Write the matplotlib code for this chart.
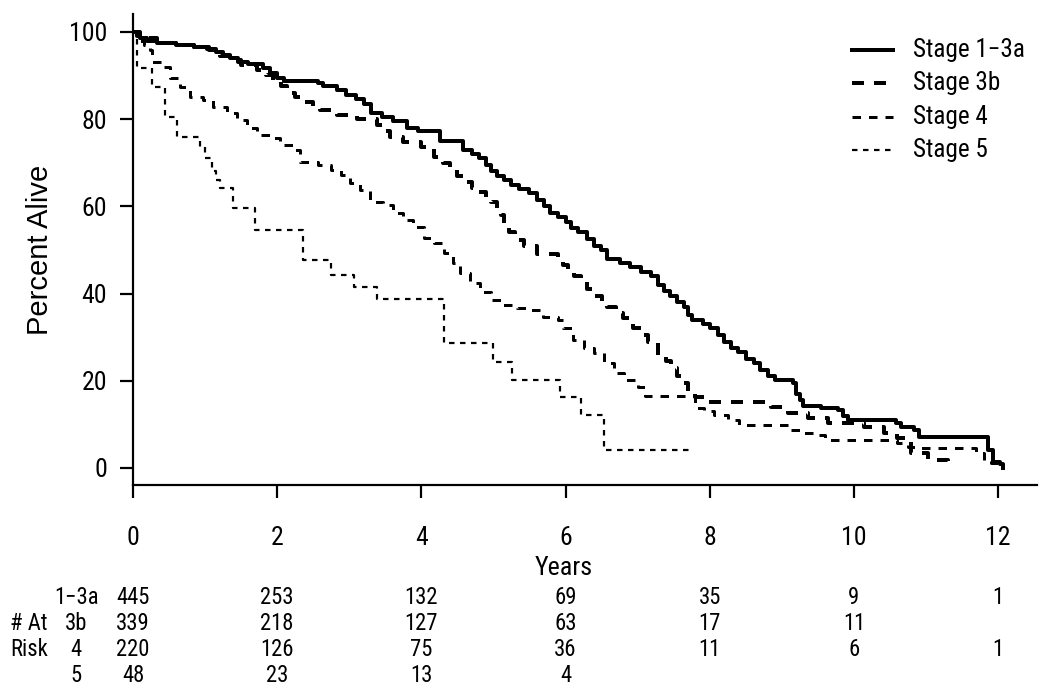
import matplotlib
matplotlib.use("Agg")
import matplotlib.pyplot as plt
from matplotlib import font_manager
from matplotlib.font_manager import FontProperties
from matplotlib.lines import Line2D
from matplotlib.transforms import blended_transform_factory

# ---------------- data ----------------
labels = ["Stage 1\u22123a", "Stage 3b", "Stage 4", "Stage 5"]

t_13a = [0, 0.05, 0.1, 0.2, 0.33, 0.6, 0.85, 1.03, 1.15, 1.25, 1.35, 1.45, 1.6, 1.8, 1.9,
         2.0, 2.1, 2.56, 2.63, 2.83, 2.95, 3.1, 3.2, 3.3, 3.45, 3.6, 3.8, 3.95, 4.26, 4.58,
         4.7, 4.8, 4.9, 4.96, 5.05, 5.15, 5.25, 5.35, 5.5, 5.6, 5.7, 5.78, 5.9, 6.0, 6.08,
         6.17, 6.3, 6.4, 6.49, 6.58, 6.75, 6.9, 7.05, 7.18, 7.28, 7.36, 7.45, 7.55, 7.64,
         7.7, 7.76, 7.9, 8.01, 8.11, 8.2, 8.3, 8.39, 8.5, 8.61, 8.7, 8.81, 8.9, 9.15, 9.2,
         9.25, 9.3, 9.55, 9.78, 9.85, 9.92, 10.58, 10.65, 10.83, 10.9, 11.86, 11.93, 12.02,
         12.07]
s_13a = [100, 99, 98.6, 98, 97.5, 97, 96.5, 96, 95.3, 94.7, 94, 93.2, 92.7, 91.7, 90.5,
         89.5, 88.7, 88.3, 87.5, 86.7, 85.5, 84.5, 83.5, 81.5, 80.5, 79.5, 78, 77.3, 75, 73,
         72, 71, 69.5, 68, 67, 66, 65, 64, 63, 61.5, 60, 58.5, 57.5, 56.5, 55,
         54, 52.5, 51, 50, 48, 47, 46, 45, 44, 42, 40.5, 39.5, 38, 37,
         35, 34, 33, 32, 30.5, 29, 27.5, 26.5, 25, 24, 22.5, 21, 20.2, 19.5, 17,
         15.5, 14.3, 13.8, 13.2, 12, 11, 10.3, 9.4, 8.7, 7.1, 4.1, 1.4, 1.0,
         0]

t_3b = [0, 0.1, 0.33, 0.6, 0.85, 1.05, 1.2, 1.35, 1.5, 1.72, 1.85, 1.94, 2.05, 2.14, 2.25,
        2.36, 2.5, 2.6, 2.83, 3.11, 3.39, 3.5, 3.57, 3.75, 3.99, 4.17, 4.3, 4.4, 4.5, 4.58,
        4.7, 4.78, 4.9, 4.96, 5.05, 5.1, 5.15, 5.21, 5.3, 5.42, 5.61, 5.9, 5.97, 6.03, 6.12,
        6.21, 6.3, 6.39, 6.5, 6.58, 6.7, 6.8, 6.94, 7.05, 7.14, 7.28, 7.4, 7.46, 7.55, 7.6,
        7.7, 7.8, 7.97, 8.85, 9.08, 9.36, 9.64, 10.14, 10.42, 10.6, 10.79, 11.03, 11.3, 11.36]
s_3b = [100, 98.6, 97.5, 97, 96.5, 95.8, 94.5, 93.5, 92.5, 91.3, 90, 89, 87.5, 86, 85,
        84, 83, 82, 81, 80, 78.7, 77.2, 76, 74.8, 73.6, 71.3, 70, 68.8, 67, 65.6,
        64.3, 63.2, 62, 61, 59.5, 58, 56, 54, 52.3, 50.8, 49, 48.3, 46.5, 45.4, 44,
        42.6, 41, 39.5, 38, 37, 35.5, 34.5, 32, 30.5, 28.8, 26, 24.5, 23, 21, 19.5,
        17.5, 16.3, 15.2, 14, 12.6, 11.5, 10.4, 9.4, 8, 6.8, 3.4, 1.8, 1.1, 1.1]

t_4 = [0, 0.05, 0.15, 0.24, 0.26, 0.42, 0.51, 0.65, 0.79, 0.97, 1.11, 1.31, 1.44, 1.58,
       1.72, 1.9, 2.04, 2.22, 2.32, 2.56, 2.74, 2.88, 3.01, 3.15, 3.29, 3.47, 3.61, 3.75,
       3.89, 4.03, 4.17, 4.31, 4.44, 4.54, 4.68, 4.82, 4.96, 5.1, 5.33, 5.51, 5.69, 5.89,
       5.97, 6.11, 6.25, 6.39, 6.53, 6.67, 6.81, 7.0, 7.1, 7.8, 7.92, 8.06, 8.25, 8.4,
       9.08, 9.26, 9.44, 9.6, 10.6, 10.75, 10.85, 11.7, 11.8, 11.9, 12.0]
s_4 = [100, 98, 97, 95.9, 93, 92, 89.4, 87.4, 85.1, 84.4, 82.8, 81.4, 79.8, 78,
       76.4, 75.7, 74.1, 72.9, 70.2, 69.5, 68.3, 67.2, 65.4, 63.8, 61, 60.3, 58.5, 56.9,
       55.3, 52.8, 51.6, 49.3, 47, 44.7, 42.4, 40.4, 38.5, 37.4, 36.7, 36.2, 34.6, 33.9,
       32.1, 29.4, 27.5, 26.4, 24.1, 21.8, 20.2, 18.6, 16.6, 13.8, 13.0, 12.2, 11.0, 9.9,
       8.7, 8.0, 7.5, 6.5, 5.7, 4.9, 4.5, 3.4, 1.8, 1.1, 1.1]

t_5 = [0, 0.05, 0.26, 0.44, 0.61, 0.93, 1.0, 1.1, 1.15, 1.21, 1.39, 1.69, 2.36, 2.74,
       3.06, 3.39, 4.31, 5.0, 5.26, 5.93, 6.21, 6.53, 7.78]
s_5 = [100, 91.7, 87.4, 80.5, 76, 73.6, 71, 68, 66, 64.2, 59.6, 54.6, 47.7, 44.3,
       41.5, 38.7, 28.7, 24.3, 20.2, 16.3, 12.2, 4.1, 4.1]

risk_times = [0, 2, 4, 6, 8, 10, 12]
risk_groups = ["1\u22123a", "3b", "4", "5"]
risk_13a = [445, 253, 132, 69, 35, 9, 1]
risk_3b = [339, 218, 127, 63, 17, 11, None]
risk_4 = [220, 126, 75, 36, 11, 6, 1]
risk_5 = [48, 23, 13, 4, None, None, None]

x_ticks = [0, 2, 4, 6, 8, 10, 12]
y_ticks = [0, 20, 40, 60, 80, 100]

# ---------------- fonts: prefer a narrow sans (reference text is condensed) ----------------
def find_narrow():
    prefs = ["Liberation Sans Narrow", "Arial Narrow", "Roboto Condensed",
             "Open Sans Condensed", "Noto Sans Condensed", "DejaVu Sans Condensed"]
    found = {}
    for f in font_manager.fontManager.ttflist:
        if f.style != "normal":
            continue
        if f.weight not in (400, "normal", "regular", "book"):
            continue
        n = f.name
        st = f.stretch
        cond = ("Narrow" in n or "Condensed" in n or
                (isinstance(st, str) and "condensed" in st) or
                (isinstance(st, (int, float)) and st < 500))
        if cond:
            found.setdefault(n, f.fname)
    for p in prefs:
        if p in found:
            return FontProperties(fname=found[p])
    return None

fp_narrow = find_narrow()
fp_base = fp_narrow if fp_narrow is not None else FontProperties(family="Liberation Sans")
fp_regular = FontProperties(family="Liberation Sans")

W, H = 1050, 696
fig = plt.figure(figsize=(W / 100, H / 100), dpi=100)
renderer = fig.canvas.get_renderer()


def fitted_size(text, target_w_px, height_size):
    t = fig.text(0, 0, text, fontproperties=fp_base, fontsize=height_size)
    w = t.get_window_extent(renderer).width
    t.remove()
    wsize = height_size * target_w_px / w
    if fp_narrow is not None:
        return min(wsize, height_size * 1.1)
    return (height_size * wsize) ** 0.5 if wsize < height_size else height_size


def fp_sized(size):
    p = fp_base.copy()
    p.set_size(size)
    return p


tick_size = fitted_size("100", 38, 19)
leg_size = fitted_size("Stage 1\u22123a", 112, 19.5)
lab_size = fitted_size("Years", 58, 20)
risk_size = fitted_size("445", 33.5, 15)

ax = fig.add_axes([133 / W, 1 - 485 / H, (1037 - 133) / W, (485 - 14) / H])

px = 0.72  # points per pixel
styles = [
    dict(color="black", lw=4 * px, linestyle="-"),
    dict(color="black", lw=4 * px, linestyle=(0, (12 * px, 10 * px))),
    dict(color="black", lw=3 * px, linestyle=(0, (8.5 * px, 8 * px))),
    dict(color="black", lw=2.2 * px, linestyle=(0, (5.5 * px, 5.5 * px))),
]
plt.rcParams["lines.scale_dashes"] = False
series = [(t_13a, s_13a), (t_3b, s_3b), (t_4, s_4), (t_5, s_5)]
for (t, s), st, lab in zip(series, styles, labels):
    ax.step(t, s, where="post", label=lab, **st)

ax.set_xlim(0, 12.54)
ax.set_ylim(-3.9, 104.1)
ax.set_xticks(x_ticks)
ax.set_yticks(y_ticks)
for side in ["top", "right"]:
    ax.spines[side].set_visible(False)
for side in ["left", "bottom"]:
    ax.spines[side].set_linewidth(2.2 * px)
ax.tick_params(axis="both", direction="out", length=13 * px, width=2.2 * px)
ax.tick_params(axis="x", pad=28 * px)
ax.tick_params(axis="y", pad=13 * px)
for lbl in ax.get_xticklabels() + ax.get_yticklabels():
    lbl.set_fontproperties(fp_sized(tick_size))

fig.text(40 / W, 1 - 250 / H, "Percent Alive", rotation=90, ha="center", va="center",
         fontproperties=fp_regular, fontsize=21)
fig.text(564 / W, 1 - 568 / H, "Years", ha="center", va="center",
         fontproperties=fp_sized(lab_size))

# legend (drawn entry by entry at the reference's positions)
leg_y = [50, 83, 117, 150]
for y, st, lab in zip(leg_y, styles, labels):
    fig.add_artist(Line2D([852 / W, 893 / W], [1 - y / H, 1 - y / H],
                          transform=fig.transFigure, **st))
    fig.text(913 / W, 1 - y / H, lab, ha="left", va="center",
             fontproperties=fp_sized(leg_size))

# risk table
tr = blended_transform_factory(ax.transData, fig.transFigure)
row_y = [597, 623, 649, 675]
rows = [risk_13a, risk_3b, risk_4, risk_5]
for ry, vals, g in zip(row_y, rows, risk_groups):
    fig.text(76 / W, 1 - ry / H, g, ha="center", va="center",
             fontproperties=fp_sized(risk_size))
    for tt, v in zip(risk_times, vals):
        if v is not None:
            ax.text(tt, 1 - ry / H, str(v), transform=tr, ha="center", va="center",
                    fontproperties=fp_sized(risk_size), clip_on=False)
fig.text(10 / W, 1 - row_y[1] / H, "# At", ha="left", va="center",
         fontproperties=fp_sized(risk_size))
fig.text(10 / W, 1 - row_y[2] / H, "Risk", ha="left", va="center",
         fontproperties=fp_sized(risk_size))

fig.savefig("out.png", dpi=100)
